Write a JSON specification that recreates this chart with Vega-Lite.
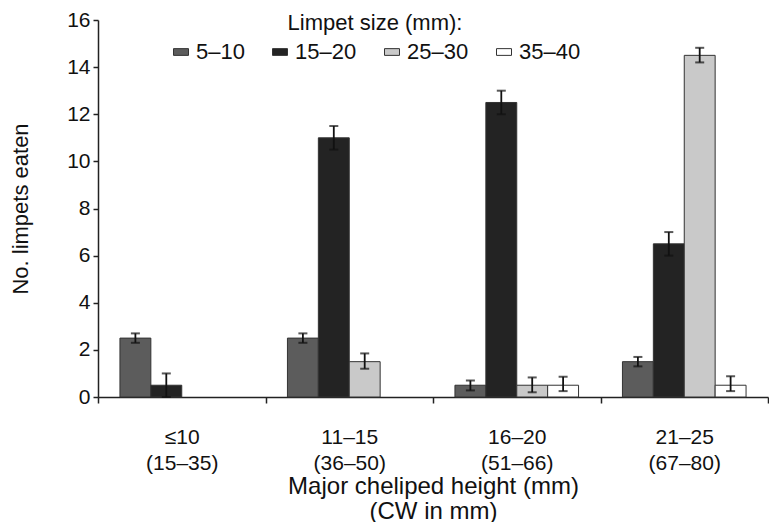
{
  "$schema": "https://vega.github.io/schema/vega-lite/v6.json",
  "width": 670,
  "height": 377,
  "autosize": "none",
  "padding": {"left": 98, "top": 20, "right": 1, "bottom": 125},
  "config": {"font": "Liberation Sans", "view": {"stroke": null}},
  "data": {
    "values": [
      {"crab": "≤10|(15–35)", "size": "5–10", "value": 2.5, "lo": 2.3, "hi": 2.7},
      {"crab": "≤10|(15–35)", "size": "15–20", "value": 0.5, "lo": 0.0, "hi": 1.0},
      {"crab": "11–15|(36–50)", "size": "5–10", "value": 2.5, "lo": 2.3, "hi": 2.7},
      {"crab": "11–15|(36–50)", "size": "15–20", "value": 11.0, "lo": 10.5, "hi": 11.5},
      {"crab": "11–15|(36–50)", "size": "25–30", "value": 1.5, "lo": 1.2, "hi": 1.85},
      {"crab": "16–20|(51–66)", "size": "5–10", "value": 0.5, "lo": 0.28, "hi": 0.7},
      {"crab": "16–20|(51–66)", "size": "15–20", "value": 12.5, "lo": 12.0, "hi": 13.0},
      {"crab": "16–20|(51–66)", "size": "25–30", "value": 0.5, "lo": 0.2, "hi": 0.83},
      {"crab": "16–20|(51–66)", "size": "35–40", "value": 0.5, "lo": 0.25, "hi": 0.86},
      {"crab": "21–25|(67–80)", "size": "5–10", "value": 1.5, "lo": 1.3, "hi": 1.7},
      {"crab": "21–25|(67–80)", "size": "15–20", "value": 6.5, "lo": 6.0, "hi": 7.0},
      {"crab": "21–25|(67–80)", "size": "25–30", "value": 14.5, "lo": 14.2, "hi": 14.82},
      {"crab": "21–25|(67–80)", "size": "35–40", "value": 0.5, "lo": 0.25, "hi": 0.88}
    ]
  },
  "encoding": {
    "x": {
      "field": "crab",
      "type": "nominal",
      "sort": null,
      "scale": {"paddingInner": 0, "paddingOuter": 0},
      "axis": {
        "labelExpr": "split(datum.label, '|')",
        "labelAngle": 0,
        "labelFontSize": 21,
        "labelLineHeight": 26,
        "labelPadding": 23,
        "labelColor": "#111",
        "tickBand": "extent",
        "tickSize": 6,
        "tickColor": "#222",
        "tickWidth": 1.5,
        "domainColor": "#222",
        "domainWidth": 1.5,
        "title": ["Major cheliped height (mm)", "(CW in mm)"],
        "titleFontSize": 24,
        "titleFontWeight": "normal",
        "titleLineHeight": 25,
        "titlePadding": 1,
        "titleColor": "#111"
      }
    },
    "xOffset": {
      "field": "size",
      "type": "nominal",
      "sort": ["5–10", "15–20", "25–30", "35–40"],
      "scale": {"domain": ["5–10", "15–20", "25–30", "35–40"], "paddingInner": 0, "paddingOuter": 0.71}
    }
  },
  "layer": [
    {
      "mark": {"type": "bar", "stroke": "#333", "strokeWidth": 1},
      "encoding": {
        "y": {
          "field": "value",
          "type": "quantitative",
          "scale": {"domain": [0, 16], "nice": false},
          "axis": {
            "values": [0, 2, 4, 6, 8, 10, 12, 14, 16],
            "grid": false,
            "tickSize": 5,
            "tickColor": "#222",
            "tickWidth": 1.5,
            "domainColor": "#222",
            "domainWidth": 1.5,
            "labelFontSize": 21,
            "labelPadding": 3,
            "labelColor": "#111",
            "title": "No. limpets eaten",
            "titleFontSize": 22,
            "titleFontWeight": "normal",
            "titlePadding": 34,
            "titleColor": "#111"
          }
        },
        "fill": {
          "field": "size",
          "type": "nominal",
          "scale": {"domain": ["5–10", "15–20", "25–30", "35–40"], "range": ["#5c5c5c", "#232323", "#c9c9c9", "#ffffff"]},
          "legend": {
            "orient": "none",
            "legendX": 72,
            "legendY": -7,
            "direction": "horizontal",
            "columns": 4,
            "title": "Limpet size (mm):",
            "titleFontSize": 22,
            "titleFontWeight": "normal",
            "titleColor": "#111",
            "titleAnchor": "middle",
            "titlePadding": 6,
            "labelFontSize": 22,
            "labelColor": "#111",
            "labelOffset": 4,
            "columnPadding": 24,
            "symbolType": "M-1,-0.45H1V0.45H-1Z",
            "symbolSize": 225,
            "symbolStrokeColor": "#333",
            "symbolStrokeWidth": 1,
            "symbolOpacity": 1
          }
        }
      }
    },
    {
      "mark": {"type": "rule", "color": "#111", "strokeWidth": 1.8},
      "encoding": {
        "y": {"field": "lo", "type": "quantitative"},
        "y2": {"field": "hi"}
      }
    },
    {
      "mark": {"type": "tick", "color": "#111", "size": 9, "thickness": 2},
      "encoding": {"y": {"field": "lo", "type": "quantitative"}}
    },
    {
      "mark": {"type": "tick", "color": "#111", "size": 9, "thickness": 2},
      "encoding": {"y": {"field": "hi", "type": "quantitative"}}
    }
  ]
}
